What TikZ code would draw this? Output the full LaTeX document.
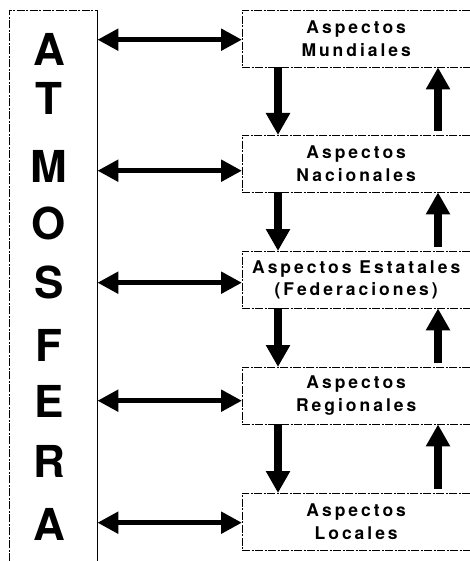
\documentclass[tikz,border=0pt]{standalone}
\usepackage{fontspec}
\setmainfont{TeX Gyre Heros}
\newfontfamily\boxfont[LetterSpace=17]{texgyreheros-bold.otf}
\usetikzlibrary{arrows.meta,calc}
\begin{document}
\begin{tikzpicture}[x=1pt,y=-1pt,
  frame/.style={line width=0.8pt, dash pattern=on 8pt off 1.5pt on 2pt off 1.5pt},
  letter/.style={font=\fontsize{44}{44}\selectfont\bfseries, inner sep=0},
  level/.style={minimum width=228pt, minimum height=57pt, inner sep=0, anchor=north west,
    align=center, font=\boxfont\fontsize{17.5}{22.5}\selectfont},
  link/.style={line width=5.5pt, {Triangle[width=21pt,length=21pt]}-{Triangle[width=21pt,length=21pt]}},
  flow/.style={line width=8pt, -{Triangle[width=23pt,length=22pt]}}
]
\useasboundingbox (0,0) rectangle (470,561);

% atmosphere column (open at the bottom)
\node[minimum width=88pt, minimum height=551pt, inner sep=0, anchor=north west] (atm) at (9,10) {};
\draw[frame] (atm.south west) -- (atm.north west) -- (atm.north east);
\draw[line width=0.8pt] (atm.north east) -- (atm.south east);

\node[letter] (l1) at (49,49) {A};
\node[letter] (l2) at (49,98) {T};
\node[letter] (l3) at (49,166) {M};
\node[letter] (l4) at (49,223) {O};
\node[letter] (l5) at (49,282) {S};
\node[letter] (l6) at (49,345) {F};
\node[letter] (l7) at (49,401) {E};
\node[letter] (l8) at (49,461) {R};
\node[letter] (l9) at (49,524) {A};

% levels (open on the right)
\node[level] (b1) at (242,10)  {Aspectos\\Mundiales};
\node[level] (b2) at (242,135) {Aspectos\\Nacionales};
\node[level] (b3) at (242,251) {Aspectos Estatales\\(Federaciones)};
\node[level] (b4) at (242,367) {Aspectos\\Regionales};
\node[level] (b5) at (242,493) {Aspectos\\Locales};
\foreach \b in {b1,b2,b3,b4,b5}
  \draw[frame] (\b.north east) -- (\b.north west) -- (\b.south west) -- (\b.south east);

% links between the atmosphere and each level
\coordinate (h1) at ($(b1.west)+(0,1)$);
\coordinate (h2) at ($(b2.west)+(0,7)$);
\coordinate (h3) at ($(b3.west)+(0,3)$);
\coordinate (h4) at ($(b4.west)+(0,5)$);
\coordinate (h5) at ($(b5.west)+(0,1)$);
\foreach \h in {h1,h2,h3,h4,h5}
  \draw[link] (atm.east |- \h) -- (\h);

% downward and upward flows between levels
\coordinate (dn) at (278,0);
\coordinate (up) at (438,0);
\foreach \a/\b in {b1/b2,b2/b3,b3/b4,b4/b5} {
  \draw[flow] (\a.south -| dn) -- (\b.north -| dn);
  \draw[flow] ([yshift=4pt]\b.north -| up) -- (\a.south -| up);
}
\end{tikzpicture}
\end{document}
